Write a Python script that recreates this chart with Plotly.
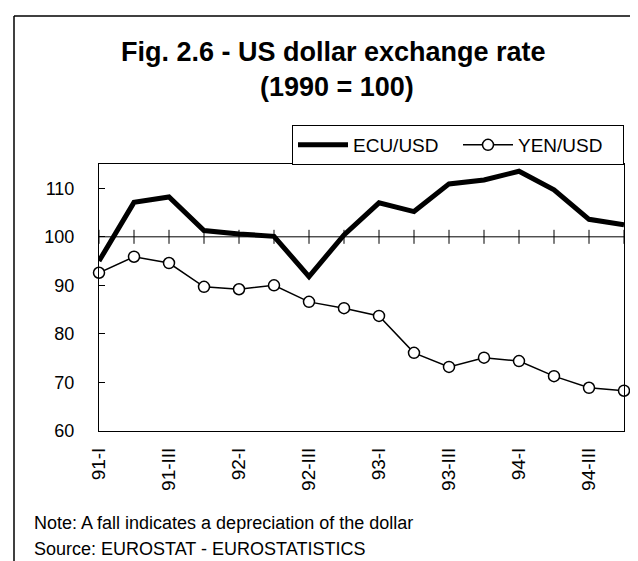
import plotly.graph_objects as go

# ---- data ----
quarters = ["91-I", "91-II", "91-III", "91-IV",
            "92-I", "92-II", "92-III", "92-IV",
            "93-I", "93-II", "93-III", "93-IV",
            "94-I", "94-II", "94-III", "94-IV"]
ecu_usd = [95.0, 107.1, 108.2, 101.3, 100.6, 100.1, 91.8, 100.4,
           107.0, 105.2, 110.9, 111.7, 113.5, 109.7, 103.6, 102.5]
yen_usd = [92.6, 95.9, 94.6, 89.7, 89.2, 90.0, 86.6, 85.3,
           83.7, 76.1, 73.2, 75.1, 74.4, 71.3, 68.9, 68.3]
shown_ticks = quarters[::2]
y_ticks = [60, 70, 80, 90, 100, 110]
baseline = 100
title_line1 = "Fig. 2.6 - US dollar exchange rate"
title_line2 = "(1990 = 100)"
note_text = "Note: A fall indicates a depreciation of the dollar"
source_text = "Source: EUROSTAT - EUROSTATISTICS"

# ---- layout geometry (pixels) ----
W, H = 638, 561
L, R, T, B = 91, 616, 156, 423
FONT = "Liberation Sans, Arial, sans-serif"


def px2x(px):
    return (px - L) / (R - L)


def px2y(py):
    return (B - py) / (B - T)


fig = go.Figure()

# baseline at 100 with crossing tick marks at each quarter
fig.add_trace(go.Scatter(
    x=quarters, y=[baseline] * len(quarters), mode="lines+markers",
    line=dict(color="black", width=1),
    marker=dict(symbol="line-ns-open", size=10, line=dict(color="black", width=1)),
    showlegend=False, hoverinfo="skip", cliponaxis=False))

fig.add_trace(go.Scatter(
    x=quarters, y=ecu_usd, mode="lines", name="ECU/USD",
    line=dict(color="black", width=5), cliponaxis=False))

fig.add_trace(go.Scatter(
    x=quarters, y=yen_usd, mode="lines+markers", name="YEN/USD",
    line=dict(color="black", width=1.5),
    marker=dict(symbol="circle", size=11, color="white",
                line=dict(color="black", width=1.5)),
    cliponaxis=False))

fig.update_layout(
    width=W, height=H,
    margin=dict(l=L, r=W - R, t=T, b=H - B),
    paper_bgcolor="white", plot_bgcolor="white",
    font=dict(family=FONT, size=18, color="black"),
    showlegend=True,
    legend=dict(orientation="h", x=px2x(284), y=px2y(157),
                xanchor="left", yanchor="bottom",
                bordercolor="black", borderwidth=1, bgcolor="white",
                font=dict(size=19, family=FONT), itemwidth=50,
                entrywidth=100, entrywidthmode="pixels",
                tracegroupgap=0),
    xaxis=dict(type="category", range=[0, len(quarters) - 1],
               tickmode="array", tickvals=shown_ticks, ticktext=shown_ticks,
               tickangle=-90, ticks="", showgrid=False, zeroline=False,
               showline=True, linecolor="black", linewidth=1, mirror=True,
               ticklabelstandoff=8, tickfont=dict(size=19)),
    yaxis=dict(range=[60, 115], tickmode="array", tickvals=y_ticks,
               ticks="inside", ticklen=6, tickcolor="black",
               showgrid=False, zeroline=False,
               showline=True, linecolor="black", linewidth=1, mirror=True,
               ticklabelstandoff=20, tickfont=dict(size=18)),
)

annotations = [
    dict(text="<b>" + title_line1 + "</b>", x=px2x(325), y=px2y(44),
         font=dict(size=27, family=FONT)),
    dict(text="<b>" + title_line2 + "</b>", x=px2x(329), y=px2y(79),
         font=dict(size=27, family=FONT)),
]
for a in annotations:
    a.update(xref="paper", yref="paper", showarrow=False,
             xanchor="center", yanchor="middle")

annotations += [
    dict(text=note_text, x=px2x(24), y=px2y(515), xref="paper", yref="paper",
         showarrow=False, xanchor="left", yanchor="middle",
         font=dict(size=18, family=FONT)),
    dict(text=source_text, x=px2x(24), y=px2y(541), xref="paper", yref="paper",
         showarrow=False, xanchor="left", yanchor="middle",
         font=dict(size=18, family=FONT)),
]
fig.update_layout(annotations=annotations)

# outer frame (left and top edges)
fig.add_shape(type="line", xref="paper", yref="paper",
              x0=px2x(6), x1=px2x(6), y0=px2y(8), y1=px2y(570),
              line=dict(color="black", width=1.5))
fig.add_shape(type="line", xref="paper", yref="paper",
              x0=px2x(6), x1=px2x(645), y0=px2y(8), y1=px2y(8),
              line=dict(color="black", width=1.5))

fig.write_html("out.html")
